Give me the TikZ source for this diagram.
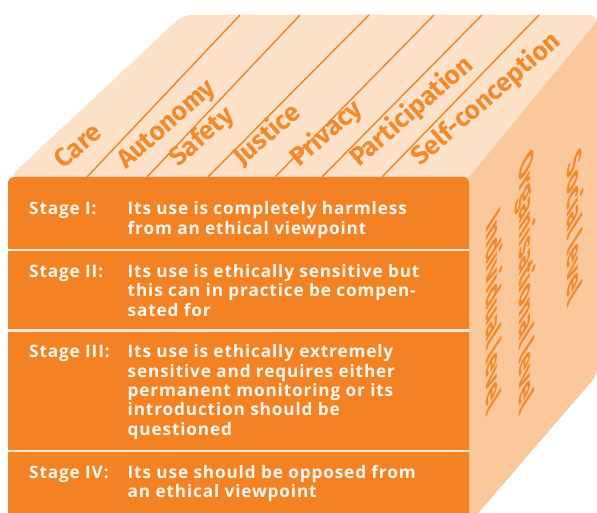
\documentclass[tikz,border=0pt]{standalone}
\usepackage{fontspec}
\setmainfont{Fira Sans}
\newfontfamily\osans[LetterSpace=5]{Open Sans}
\definecolor{frontor}{HTML}{F28224}
\definecolor{topface}{HTML}{FDE1C8}
\definecolor{rightface}{HTML}{FAC89B}
\definecolor{sepcol}{HTML}{FDEBDA}
\definecolor{txtcol}{HTML}{FFF7EE}
\definecolor{labor}{HTML}{F28A2C}
\begin{document}
\begin{tikzpicture}[x=1pt,y=1pt,
  divline/.style={draw=frontor, line width=1.4pt},
  sepline/.style={draw=sepcol, line width=2.6pt},
  stagelab/.style={anchor=base west, inner sep=0, text=txtcol, font=\osans\fontsize{17.2}{19.4}\selectfont\bfseries},
  stagetxt/.style={anchor=base west, inner sep=0, text=txtcol, font=\osans\fontsize{17.2}{19.4}\selectfont\bfseries},
  toplab/.style={anchor=base west, inner sep=0, text=labor, rotate=41, font=\fontsize{26}{26}\selectfont\bfseries},
  sidelab/.style={anchor=base west, inner sep=0, text=labor, transform shape, font=\fontsize{14}{14}\selectfont\bfseries}]
\useasboundingbox (0,0) rectangle (597,513);
\clip (0,0) rectangle (597,513);
% silhouette (right face colour)
\fill[rightface, rounded corners=9pt] (10,336) -- (183,498) -- (598,498) -- (598,139) -- (469,-11) -- cycle;
% top face
\begin{scope}
  \clip[rounded corners=9pt] (10,336) -- (183,498) -- (598,498) -- (598,139) -- (469,-11) -- cycle;
  \fill[topface] (0,336) -- (469,336) -- (620,520) -- (0,520) -- cycle;
\end{scope}
% dividing lines on top face
\foreach \a/\b in {87/240,147/300,208/369,275/434,322/482,382/539}
  \draw[divline] (\a,336) -- (\b,498);
% top labels
\node[toplab] (care) at (63,343) {Care};
\node[toplab] (auto) at (126,343) {Autonomy};
\node[toplab] (safe) at (178,345) {Safety};
\node[toplab] (just) at (242,346) {Justice};
\node[toplab] (priv) at (299,345) {Privacy};
\node[toplab] (part) at (359,345) {Participation};
\node[toplab] (self) at (420,346) {Self-conception};
% front face
\fill[frontor, rounded corners=6pt] (8,-12) rectangle (469,336);
\draw[sepline] (8,263) -- (469,263);
\draw[sepline] (8,182.5) -- (469,182.5);
\draw[sepline] (8,62) -- (469,62);
% stage texts
\node[stagelab] (s1) at (29,298) {Stage I:};
\node[stagetxt] (t1) at (127.5,298) {\parbox[t]{340pt}{\raggedright Its use is completely harmless\\from an ethical viewpoint}};
\node[stagelab] (s2) at (29,235.7) {Stage II:};
\node[stagetxt] (t2) at (127.5,235.7) {\parbox[t]{340pt}{\raggedright Its use is ethically sensitive but\\this can in practice be compen-\\sated for}};
\node[stagelab] (s3) at (29,155.3) {Stage III:};
\node[stagetxt] (t3) at (127.5,155.3) {\parbox[t]{340pt}{\raggedright Its use is ethically extremely\\sensitive and requires either\\permanent monitoring or its\\introduction should be\\questioned}};
\node[stagelab] (s4) at (29,34.7) {Stage IV:};
\node[stagetxt] (t4) at (127.5,34.7) {\parbox[t]{340pt}{\raggedright Its use should be opposed from\\an ethical viewpoint}};
% side labels
\begin{scope}[shift={(486,287)}, cm={0,-1.96,1.45,2.25,(0,0)}]
  \node[sidelab] (ind) at (0,0) {Individual level};
\end{scope}
\begin{scope}[shift={(519,347)}, cm={0,-1.96,1.45,2.25,(0,0)}]
  \node[sidelab] (org) at (0,0) {Organisational level};
\end{scope}
\begin{scope}[shift={(567,347)}, cm={0,-1.96,1.45,2.25,(0,0)}]
  \node[sidelab] (soc) at (0,0) {Social level};
\end{scope}
\end{tikzpicture}
\end{document}
